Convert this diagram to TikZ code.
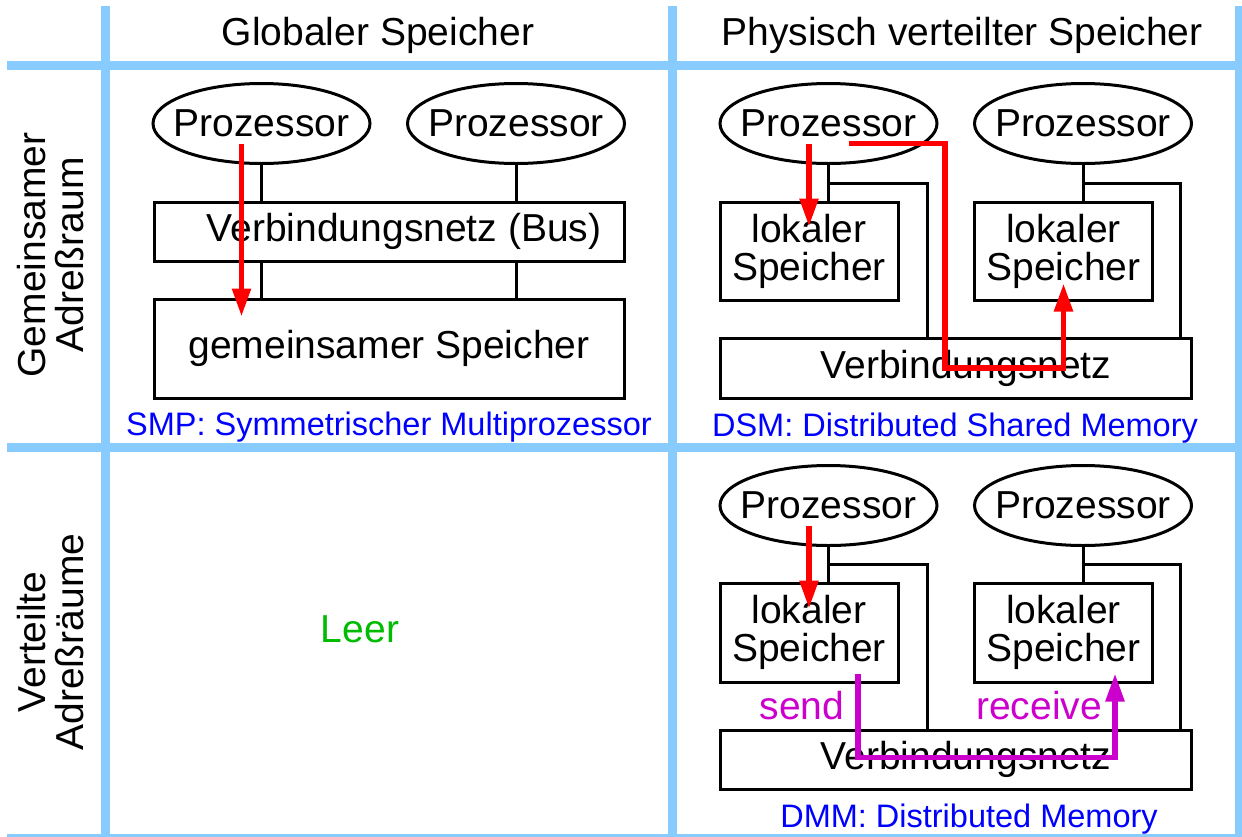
\documentclass[tikz,border=0pt]{standalone}
\usepackage{fontspec}
\setmainfont{Liberation Sans}
\usetikzlibrary{shapes.geometric,arrows.meta,calc}
\definecolor{gridblue}{RGB}{136,204,255}
\definecolor{capblue}{RGB}{0,0,255}
\definecolor{leergreen}{RGB}{0,187,0}
\definecolor{msgmagenta}{RGB}{204,0,204}
\tikzset{
  cellline/.style={draw=gridblue, line width=4.5pt},
  proc/.style={ellipse, draw, line width=1.5pt, minimum width=108.5pt, minimum height=40pt, inner sep=0pt, label=center:Prozessor},
  box/.style={draw, line width=1.5pt, inner sep=0pt},
  locbox/.style={box, minimum width=89pt, minimum height=49pt, align=center},
  wire/.style={line width=1.5pt},
  flow/.style={red, line width=2.75pt, -{Triangle[length=14pt,width=9pt]}},
  msg/.style={flow, color=msgmagenta},
  caption/.style={anchor=base, text=capblue, font=\fontsize{16.25}{19}\selectfont}
}
\begin{document}
\begin{tikzpicture}[x=0.5pt,y=-0.5pt,font=\fontsize{19.5}{19}\selectfont]
        \useasboundingbox (0,0) rectangle (1242,836);

        % Tabellenraster
        \draw[cellline] (7,65) -- (1242,65);
        \draw[cellline] (7,447) -- (1242,447);
        \draw[cellline] (7,838) -- (1242,838);
        \draw[cellline] (105,6) -- (105,842);
        \draw[cellline] (672,6) -- (672,842);
        \draw[cellline] (1239.5,6) -- (1239.5,842);

        \node[anchor=base] (hGlobal)   at (378,45) {Globaler Speicher};
        \node[anchor=base] (hVerteilt) at (962,45) {Physisch verteilter Speicher};
        \node[rotate=90,align=center] (rShared) at (51,255) {Gemeinsamer\\Adreßraum};
        \node[rotate=90,align=center] (rDist)   at (51,642) {Verteilte\\Adreßräume};

        % SMP
        \node[proc] (smpA) at (261.5,123.5) {};
        \node[proc] (smpB) at (516,123.5) {};
        \node[box,minimum width=235pt,minimum height=29.5pt,label={[xshift=7.5pt]center:Verbindungsnetz (Bus)}] (smpBus) at (389,231.5) {};
        \node[box,minimum width=235pt,minimum height=49.5pt] (smpMem) at (389,348.5) {gemeinsamer Speicher};
        \node[caption] (smpCap) at (389,435) {SMP: Symmetrischer Multiprozessor};

        \draw[wire] (smpA.south) -- (smpA.south |- smpBus.north);
        \draw[wire] (smpB.south) -- (smpB.south |- smpBus.north);
        \draw[wire] (smpA.south |- smpBus.south) -- (smpA.south |- smpMem.north);
        \draw[wire] (smpB.south |- smpBus.south) -- (smpB.south |- smpMem.north);
        \draw[flow] ($(smpA.center)+(-20,20)$) -- ($(smpA.center |- smpMem.north)+(-20,19)$);

        % DSM
        \node[proc] (dsmA) at (828.5,123.5) {};
        \node[proc] (dsmB) at (1083,123.5) {};
        \node[locbox] (dsmL1) at (809,251) {lokaler\\Speicher};
        \node[locbox] (dsmL2) at (1063.5,251) {lokaler\\Speicher};
        \node[box,minimum width=235.5pt,minimum height=30pt,label={[xshift=5.25pt]center:Verbindungsnetz}] (dsmNet) at (955.5,368) {};
        \node[caption] (dsmCap) at (955,436) {DSM: Distributed Shared Memory};
        \coordinate (dsmTA) at (927,183);
        \coordinate (dsmTB) at (1180,183);

        \draw[wire] (dsmA.south) -- (dsmA.south |- dsmL1.north);
        \draw[wire] (dsmB.south) -- (dsmB.south |- dsmL2.north);
        \draw[wire] (dsmA.south |- dsmTA) -- (dsmTA) -- (dsmTA |- dsmNet.north);
        \draw[wire] (dsmB.south |- dsmTB) -- (dsmTB) -- (dsmTB |- dsmNet.north);
        \draw[flow] ($(dsmA.center)+(-19.5,20)$) -- ($(dsmL1.north)+(0,26)$);
        \draw[flow] ($(dsmA.center)+(20.5,20)$) -| ($(dsmNet.center)+(-10.5,0)$) -| ($(dsmL2.south)+(0,-18)$);

        % DMM
        \node[proc] (dmmA) at (828.5,505.5) {};
        \node[proc] (dmmB) at (1083,505.5) {};
        \node[locbox,minimum height=49.5pt] (dmmL1) at (809,632.5) {lokaler\\Speicher};
        \node[locbox,minimum height=49.5pt] (dmmL2) at (1063.5,632.5) {lokaler\\Speicher};
        \node[box,minimum width=235.5pt,minimum height=29.5pt,label={[xshift=5.25pt]center:Verbindungsnetz}] (dmmNet) at (955.5,759.5) {};
        \node[caption] (dmmCap) at (969,827) {DMM: Distributed Memory};
        \coordinate (dmmTA) at (927,564);
        \coordinate (dmmTB) at (1180,564);

        \draw[wire] (dmmA.south) -- (dmmA.south |- dmmL1.north);
        \draw[wire] (dmmB.south) -- (dmmB.south |- dmmL2.north);
        \draw[wire] (dmmA.south |- dmmTA) -- (dmmTA) -- (dmmTA |- dmmNet.north);
        \draw[wire] (dmmB.south |- dmmTB) -- (dmmTB) -- (dmmTB |- dmmNet.north);
        \draw[flow] ($(dmmA.center)+(-19.5,20)$) -- ($(dmmL1.north)+(0,27)$);
        \draw[msg] ($(dmmL1.south)+(49,-10)$) |- ($(dmmNet.center)+(0,-2)$) -| ($(dmmL2.south)+(51.5,-10)$);
        \node[anchor=base,text=msgmagenta] (dmmSend) at (802,719) {send};
        \node[anchor=base,text=msgmagenta] (dmmRecv) at (1039,719) {receive};

        \node[anchor=base,text=leergreen] (leer) at (360,642) {Leer};
    \end{tikzpicture}
\end{document}
